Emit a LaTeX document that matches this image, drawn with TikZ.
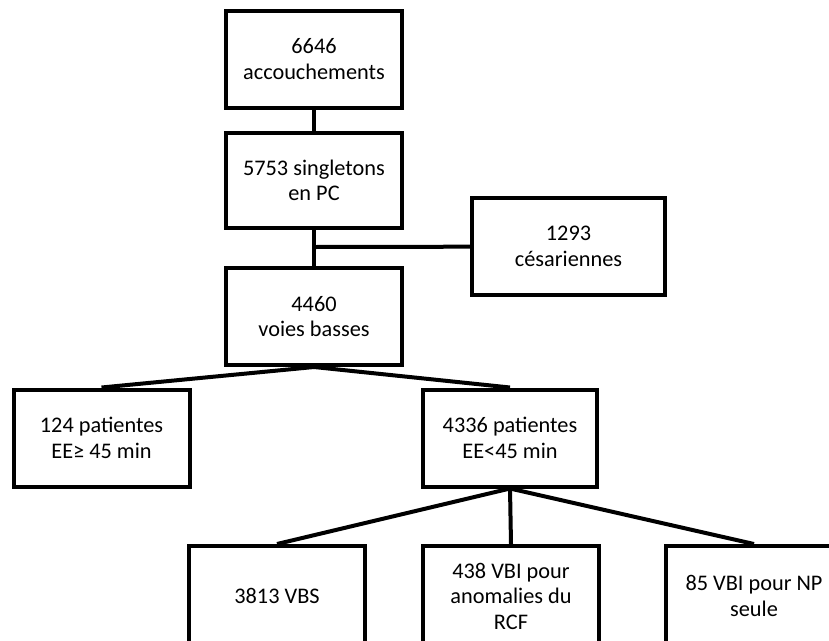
\documentclass[tikz,border=0pt]{standalone}
\usepackage{fontspec}
\setmainfont{Carlito}
\usetikzlibrary{positioning}

\begin{document}
\begin{tikzpicture}[
                x = 1pt, y = -1pt, % pixel units, y going down
                line width = 4pt, % line style
                line join = miter
            ]

            \tikzset{box/.style={draw = black, rectangle, align = center,
            font = \fontsize{22.3}{25.5}\selectfont, inner sep = 2pt,
            minimum width = 176, minimum height = 97}}

            \useasboundingbox (0,0) rectangle (829,640);
            \clip (0,0) rectangle (829,640);

            \node (acc) [box] at (314,59) {6646\\accouchements};
            \node (sgl) [box, minimum height = 95] at (314,180.5) {5753 singletons\\en PC};
            \node (ces) [box, minimum width = 193] at (568.5,246.5) {1293\\césariennes};
            \node (vb) [box] at (314,316.5) {4460\\voies basses};
            \node (ee1) [box] at (101.5,438) {124 patientes\\EE≥ 45 min};
            \node (ee2) [box, minimum width = 174] at (510,438) {4336 patientes\\EE<45 min};
            \node (vbs) [box, minimum height = 100] at (277,596) {3813 VBS};
            \node (rcf) [box, minimum height = 100] at (511,596) {438 VBI pour\\anomalies du\\RCF};
            \node (np) [box, minimum height = 100] at (754,596) {85 VBI pour NP\\seule};
            \coordinate (j) at (314,247);

            \path[-] (acc) edge (sgl); \path[-] (sgl) edge (vb);
            \path[-] (j) edge (ces);
            \path[-] (vb.south) edge (ee1.north); \path[-] (vb.south) edge (ee2.north);
            \path[-] (ee2.south) edge (vbs.north); \path[-] (ee2.south) edge (rcf.north);
            \path[-] (ee2.south) edge (np.north);

        \end{tikzpicture}
\end{document}
